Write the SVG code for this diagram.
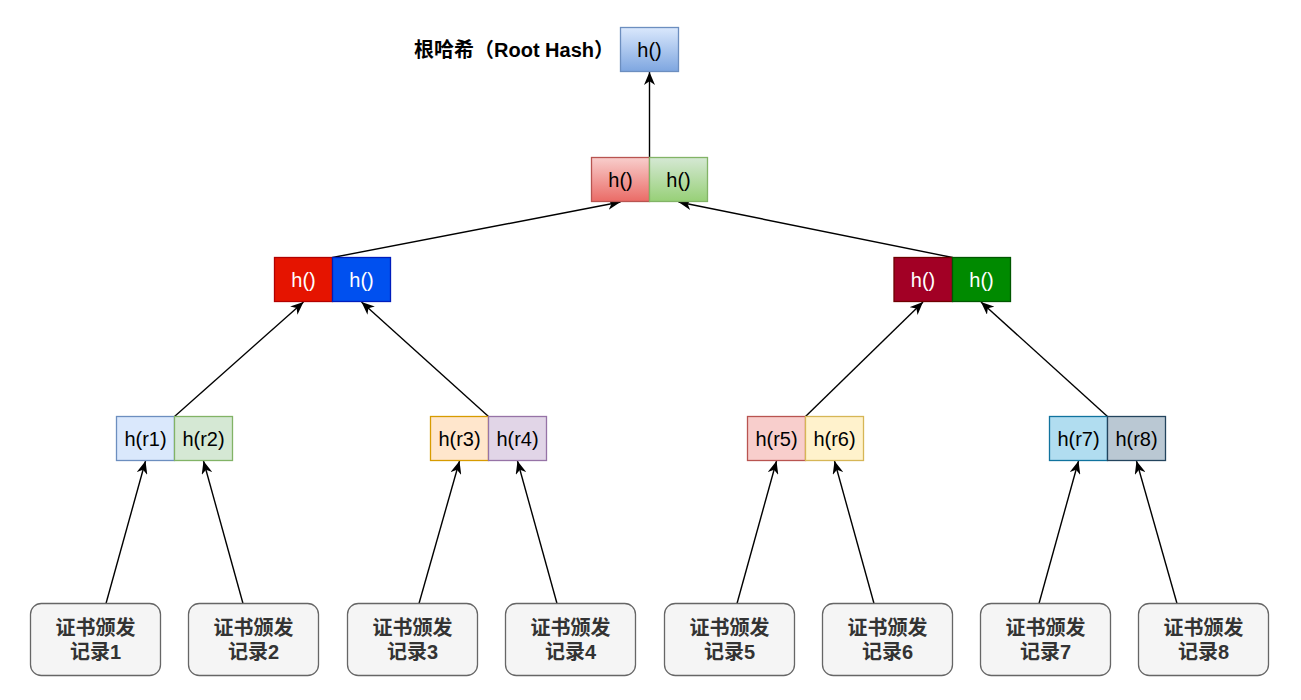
<svg xmlns="http://www.w3.org/2000/svg" width="1301" height="700" viewBox="0 0 1301 700">
<style>
  .h { font-family: "Liberation Sans", Arial, sans-serif; font-size: 20px; text-anchor: middle; fill: #000; }
  .w { fill: #fff; }
  .rec { font-family: "Liberation Sans", "Noto Sans CJK SC", sans-serif; font-size: 20px; font-weight: bold; text-anchor: middle; fill: #333333; }
  .lbl { font-family: "Liberation Sans", "Noto Sans CJK SC", sans-serif; font-size: 20px; font-weight: bold; fill: #000; }
  .box { fill: #f5f5f5; stroke: #666666; stroke-width: 1.3; }
  .edge { fill: none; stroke: #000; stroke-width: 1.4; marker-end: url(#arr); }
</style>
<defs>
  <linearGradient id="gBlue" x1="0" y1="0" x2="0" y2="1"><stop offset="0" stop-color="#dae8fc"/><stop offset="1" stop-color="#7ea6e0"/></linearGradient>
  <linearGradient id="gRed" x1="0" y1="0" x2="0" y2="1"><stop offset="0" stop-color="#f8cecc"/><stop offset="1" stop-color="#ea6b66"/></linearGradient>
  <linearGradient id="gGreen" x1="0" y1="0" x2="0" y2="1"><stop offset="0" stop-color="#d5e8d4"/><stop offset="1" stop-color="#97d077"/></linearGradient>
  <marker id="arr" markerUnits="userSpaceOnUse" viewBox="0 0 13 11" refX="13" refY="5.5" markerWidth="13" markerHeight="11" orient="auto">
    <path d="M13,5.5 L0,0 L3.8,5.5 L0,11 Z" fill="#000"/>
  </marker>
</defs>
<rect width="1301" height="700" fill="#fff"/>

<g id="edges">
  <line class="edge" x1="649.5" y1="157.5" x2="649.5" y2="72"/>
  <line class="edge" x1="332.5" y1="257.5" x2="620.5" y2="202"/>
  <line class="edge" x1="952.5" y1="257.5" x2="678.5" y2="202"/>
  <line class="edge" x1="174.5" y1="416.5" x2="303.5" y2="302"/>
  <line class="edge" x1="488.5" y1="416.5" x2="361.5" y2="302"/>
  <line class="edge" x1="805.5" y1="416.5" x2="923" y2="302"/>
  <line class="edge" x1="1107.5" y1="416.5" x2="981" y2="302"/>
  <line class="edge" x1="106" y1="603.5" x2="145.5" y2="461"/>
  <line class="edge" x1="243" y1="603.5" x2="203.5" y2="461"/>
  <line class="edge" x1="419" y1="603.5" x2="459.5" y2="461"/>
  <line class="edge" x1="557" y1="603.5" x2="517.5" y2="461"/>
  <line class="edge" x1="737" y1="603.5" x2="776.5" y2="461"/>
  <line class="edge" x1="874" y1="603.5" x2="834.5" y2="461"/>
  <line class="edge" x1="1039" y1="603.5" x2="1078.5" y2="461"/>
  <line class="edge" x1="1177" y1="603.5" x2="1136.5" y2="461"/>
</g>

<g id="root-label">
  <text class="lbl" x="414" y="57">根哈希（Root Hash）</text>
</g>
<g id="root">
  <rect x="620.5" y="27.5" width="58" height="44" fill="url(#gBlue)" stroke="#6c8ebf" stroke-width="1.3"/>
  <text class="h" x="649.5" y="56.5">h()</text>
</g>

<g id="mid-left">
  <rect x="591.5" y="157.5" width="58" height="44" fill="url(#gRed)" stroke="#b85450" stroke-width="1.3"/>
  <text class="h" x="620.5" y="186.5">h()</text>
</g>
<g id="mid-right">
  <rect x="649.5" y="157.5" width="58" height="44" fill="url(#gGreen)" stroke="#82b366" stroke-width="1.3"/>
  <text class="h" x="678.5" y="186.5">h()</text>
</g>

<g id="l2-a">
  <rect x="274.5" y="257.5" width="58" height="44" fill="#e51400" stroke="#b20000" stroke-width="1.3"/>
  <text class="h w" x="303.5" y="286.5">h()</text>
</g>
<g id="l2-b">
  <rect x="332.5" y="257.5" width="58" height="44" fill="#0050ef" stroke="#001dbc" stroke-width="1.3"/>
  <text class="h w" x="361.5" y="286.5">h()</text>
</g>
<g id="l2-c">
  <rect x="894" y="257.5" width="58.5" height="44" fill="#a20025" stroke="#6f0000" stroke-width="1.3"/>
  <text class="h w" x="923" y="286.5">h()</text>
</g>
<g id="l2-d">
  <rect x="952.5" y="257.5" width="58" height="44" fill="#008a00" stroke="#005700" stroke-width="1.3"/>
  <text class="h w" x="981.5" y="286.5">h()</text>
</g>

<g id="leaf-r1">
  <rect x="116.5" y="416.5" width="58" height="44" fill="#dae8fc" stroke="#6c8ebf" stroke-width="1.3"/>
  <text class="h" x="145.5" y="445.5">h(r1)</text>
</g>
<g id="leaf-r2">
  <rect x="174.5" y="416.5" width="58" height="44" fill="#d5e8d4" stroke="#82b366" stroke-width="1.3"/>
  <text class="h" x="203.5" y="445.5">h(r2)</text>
</g>
<g id="leaf-r3">
  <rect x="430.5" y="416.5" width="58" height="44" fill="#ffe6cc" stroke="#d79b00" stroke-width="1.3"/>
  <text class="h" x="459.5" y="445.5">h(r3)</text>
</g>
<g id="leaf-r4">
  <rect x="488.5" y="416.5" width="58" height="44" fill="#e1d5e7" stroke="#9673a6" stroke-width="1.3"/>
  <text class="h" x="517.5" y="445.5">h(r4)</text>
</g>
<g id="leaf-r5">
  <rect x="747.5" y="416.5" width="58" height="44" fill="#f8cecc" stroke="#b85450" stroke-width="1.3"/>
  <text class="h" x="776.5" y="445.5">h(r5)</text>
</g>
<g id="leaf-r6">
  <rect x="805.5" y="416.5" width="58" height="44" fill="#fff2cc" stroke="#d6b656" stroke-width="1.3"/>
  <text class="h" x="834.5" y="445.5">h(r6)</text>
</g>
<g id="leaf-r7">
  <rect x="1049.5" y="416.5" width="58" height="44" fill="#b1ddf0" stroke="#10739e" stroke-width="1.3"/>
  <text class="h" x="1078.5" y="445.5">h(r7)</text>
</g>
<g id="leaf-r8">
  <rect x="1107.5" y="416.5" width="58" height="44" fill="#bac8d3" stroke="#23445d" stroke-width="1.3"/>
  <text class="h" x="1136.5" y="445.5">h(r8)</text>
</g>

<g id="rec1"><rect class="box" x="30.5" y="603.5" width="130" height="72" rx="10.8"/><text class="rec" x="95.5" y="635">证书颁发</text><text class="rec" x="95.5" y="659">记录1</text></g>
<g id="rec2"><rect class="box" x="188.5" y="603.5" width="130" height="72" rx="10.8"/><text class="rec" x="253.5" y="635">证书颁发</text><text class="rec" x="253.5" y="659">记录2</text></g>
<g id="rec3"><rect class="box" x="347.5" y="603.5" width="130" height="72" rx="10.8"/><text class="rec" x="412.5" y="635">证书颁发</text><text class="rec" x="412.5" y="659">记录3</text></g>
<g id="rec4"><rect class="box" x="505.5" y="603.5" width="130" height="72" rx="10.8"/><text class="rec" x="570.5" y="635">证书颁发</text><text class="rec" x="570.5" y="659">记录4</text></g>
<g id="rec5"><rect class="box" x="664.5" y="603.5" width="130" height="72" rx="10.8"/><text class="rec" x="729.5" y="635">证书颁发</text><text class="rec" x="729.5" y="659">记录5</text></g>
<g id="rec6"><rect class="box" x="822.5" y="603.5" width="130" height="72" rx="10.8"/><text class="rec" x="887.5" y="635">证书颁发</text><text class="rec" x="887.5" y="659">记录6</text></g>
<g id="rec7"><rect class="box" x="980.5" y="603.5" width="130" height="72" rx="10.8"/><text class="rec" x="1045.5" y="635">证书颁发</text><text class="rec" x="1045.5" y="659">记录7</text></g>
<g id="rec8"><rect class="box" x="1138.5" y="603.5" width="130" height="72" rx="10.8"/><text class="rec" x="1203.5" y="635">证书颁发</text><text class="rec" x="1203.5" y="659">记录8</text></g>
</svg>
